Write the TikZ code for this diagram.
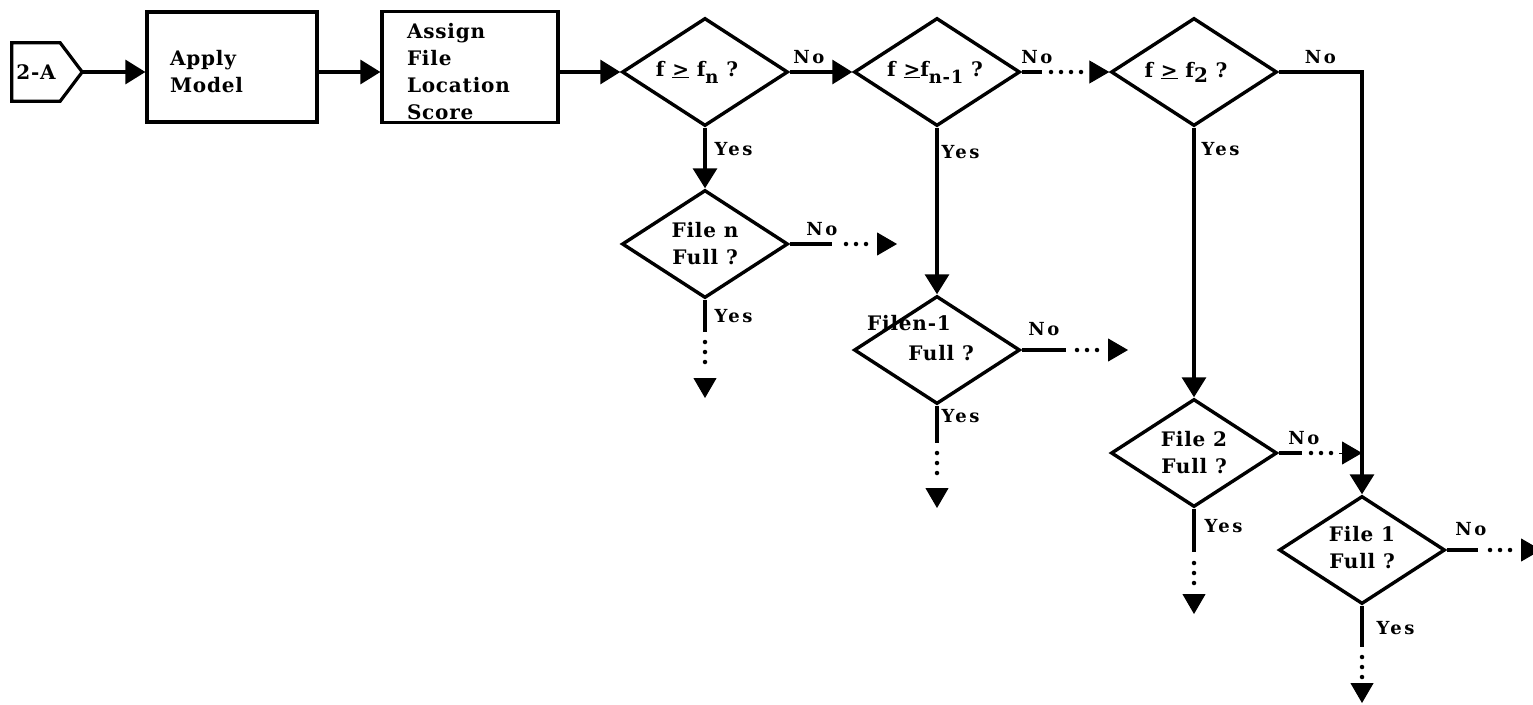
\documentclass[tikz,border=0pt]{standalone}
\usepackage{fontspec}
\setmainfont{DejaVu Serif}[LetterSpace=4]
\newfontfamily\lblfont{DejaVu Serif}[LetterSpace=14]
\usetikzlibrary{shapes.geometric,arrows.meta}
\newcommand\lowsub[1]{\raisebox{-7pt}{\fontsize{18}{18}\selectfont #1}}
\begin{document}
\begin{tikzpicture}[x=1pt,y=-1pt,
  every node/.style={font=\bfseries\fontsize{20}{27}\selectfont},
  flow/.style={line width=3.2pt},
  arr/.style={flow,-{Triangle[length=20pt,width=24pt]}},
  dotl/.style={line width=4.5pt,line cap=round,dash pattern=on 0pt off 10pt},
  tiponly/.style={line width=1pt,-{Triangle[length=20pt,width=23pt]}},
  procbox/.style={draw,line width=3.2pt,align=left,inner ysep=2pt},
  dec/.style={draw,diamond,line width=3.4pt,minimum width=166pt,minimum height=108pt,inner sep=0pt},
  lbl/.style={font=\lblfont\bfseries\fontsize{18}{18}\selectfont,inner sep=0pt},
  lblno/.style={lbl,pos=0,anchor=south west},
  lblyes/.style={lbl,pos=0,anchor=north west},
]
\clip (0,0) rectangle (1533,704);
% start connector
\node[minimum width=48pt,minimum height=58pt,inner sep=0pt] (A) at (36,72) {2-A};
\draw[flow] (A.north west) -- (A.north east) -- ([xshift=22pt]A.east) -- (A.south east) -- (A.south west) -- cycle;
\coordinate (Atip) at ([xshift=22pt]A.east);
% boxes
\node[procbox,text width=124pt,inner xsep=23pt,minimum height=110pt] (ap) at (232,67) {\rule{0pt}{24pt}Apply\\Model};
\node[procbox,text width=126pt,inner xsep=25pt,minimum height=111pt] (as) at (470,67) {\rule{0pt}{25pt}Assign\\File\\Location\\Score};
% decisions, top row
\node[dec,label={[xshift=-8pt]center:f \underline{>} f\lowsub{n} ?}] (d1) at (705,72) {};
\node[dec,label={[xshift=-2pt]center:f \underline{>}f\lowsub{n-1} ?}] (d2) at (937,72) {};
\node[dec,label={[xshift=-8pt]center:f \underline{>} f\raisebox{-5pt}{2} ?}] (d3) at (1194,72) {};
% decisions, files
\node[dec,label={[align=center]center:File n\\Full ?}] (e1) at (705,244) {};
\node[dec,label={[xshift=-28pt,yshift=27pt]center:Filen-1},label={[xshift=4pt,yshift=-3pt]center:Full ?}] (e2) at (937,350) {};
\node[dec,label={[align=center]center:File 2\\Full ?}] (e3) at (1194,453) {};
\node[dec,label={[align=center,yshift=2pt]center:File 1\\Full ?}] (e4) at (1362,550) {};
% main line
\draw[arr] (Atip) -- (Atip -| ap.west);
\draw[arr] (ap.east |- Atip) -- (Atip -| as.west);
\draw[arr] (as.east |- d1.west) -- (d1.west);
\draw[arr] (d1.east) -- node[lblno,xshift=2pt,yshift=7pt]{No} (d2.west);
% d2 -> d3 (dotted)
\coordinate (c1) at (1042,72); \coordinate (c2) at (1051,72);
\coordinate (c3) at (1081.5,72); \coordinate (c4) at (1091,72);
\draw[flow] (d2.east) -- node[lblno,xshift=-2pt,yshift=7pt]{No} (c1);
\draw[dotl] (c2) -- (c3);
\draw[tiponly] (c4) -- (d3.west);
% d3 -> e4
\draw[arr] (d3.east) -- node[lbl,midway,above,yshift=7pt]{No} (d3.east -| e4.north) -- (e4.north);
% yes branches of top row
\draw[arr] (d1.south) -- node[lblyes,xshift=8pt,yshift=-13pt]{Yes} (e1.north);
\draw[arr] (d2.south) -- node[lblyes,xshift=3pt,yshift=-16pt]{Yes} (e2.north);
\draw[arr] (d3.south) -- node[lblyes,xshift=6pt,yshift=-13pt]{Yes} (e3.north);
% e1 continuations
\coordinate (n1a) at (832,244); \coordinate (n1b) at (846,244);
\coordinate (n1c) at (866.5,244); \coordinate (n1d) at (877,244); \coordinate (n1e) at (897,244);
\draw[flow] (e1.east) -- node[lblno,xshift=15pt,yshift=7pt]{No} (n1a);
\draw[dotl] (n1b) -- (n1c);
\draw[tiponly] (n1d) -- (n1e);
\coordinate (y1a) at (705,332); \coordinate (y1b) at (705,342);
\coordinate (y1c) at (705,368.5); \coordinate (y1d) at (705,378); \coordinate (y1e) at (705,398);
\draw[flow] (e1.south) -- node[lblyes,xshift=8pt,yshift=-8pt]{Yes} (y1a);
\draw[dotl] (y1b) -- (y1c);
\draw[tiponly] (y1d) -- (y1e);
% e2 continuations
\coordinate (n2a) at (1066,350); \coordinate (n2b) at (1077,350);
\coordinate (n2c) at (1097.5,350); \coordinate (n2d) at (1108,350); \coordinate (n2e) at (1128,350);
\draw[flow] (e2.east) -- node[lblno,xshift=5pt,yshift=13pt]{No} (n2a);
\draw[dotl] (n2b) -- (n2c);
\draw[tiponly] (n2d) -- (n2e);
\coordinate (y2a) at (937,443); \coordinate (y2b) at (937,453);
\coordinate (y2c) at (937,479.5); \coordinate (y2d) at (937,488); \coordinate (y2e) at (937,508);
\draw[flow] (e2.south) -- node[lblyes,xshift=3pt,yshift=-2pt]{Yes} (y2a);
\draw[dotl] (y2b) -- (y2c);
\draw[tiponly] (y2d) -- (y2e);
% e3 continuations
\coordinate (n3a) at (1302,453); \coordinate (n3b) at (1311,453);
\coordinate (n3c) at (1331.5,453); \coordinate (n3d) at (1339,453);
\draw[flow] (e3.east) -- node[lblno,xshift=8pt,yshift=7pt]{No} (n3a);
\draw[dotl] (n3b) -- (n3c);
\draw[tiponly] (n3d) -- (n3d -| e4.north);
\coordinate (y3a) at (1194,552); \coordinate (y3b) at (1194,563);
\coordinate (y3c) at (1194,583.5); \coordinate (y3d) at (1194,594); \coordinate (y3e) at (1194,614);
\draw[flow] (e3.south) -- node[lblyes,xshift=9pt,yshift=-9pt]{Yes} (y3a);
\draw[dotl] (y3b) -- (y3c);
\draw[tiponly] (y3d) -- (y3e);
% e4 continuations
\coordinate (n4a) at (1478,550); \coordinate (n4b) at (1490,550);
\coordinate (n4c) at (1510.5,550); \coordinate (n4d) at (1521,550); \coordinate (n4e) at (1541,550);
\draw[flow] (e4.east) -- node[lblno,xshift=7pt,yshift=13pt]{No} (n4a);
\draw[dotl] (n4b) -- (n4c);
\draw[tiponly] (n4d) -- (n4e);
\coordinate (y4a) at (1362,647); \coordinate (y4b) at (1362,657);
\coordinate (y4c) at (1362,677.5); \coordinate (y4d) at (1362,683); \coordinate (y4e) at (1362,703);
\draw[flow] (e4.south) -- node[lblyes,xshift=13pt,yshift=-14pt]{Yes} (y4a);
\draw[dotl] (y4b) -- (y4c);
\draw[tiponly] (y4d) -- (y4e);
\end{tikzpicture}
\end{document}
